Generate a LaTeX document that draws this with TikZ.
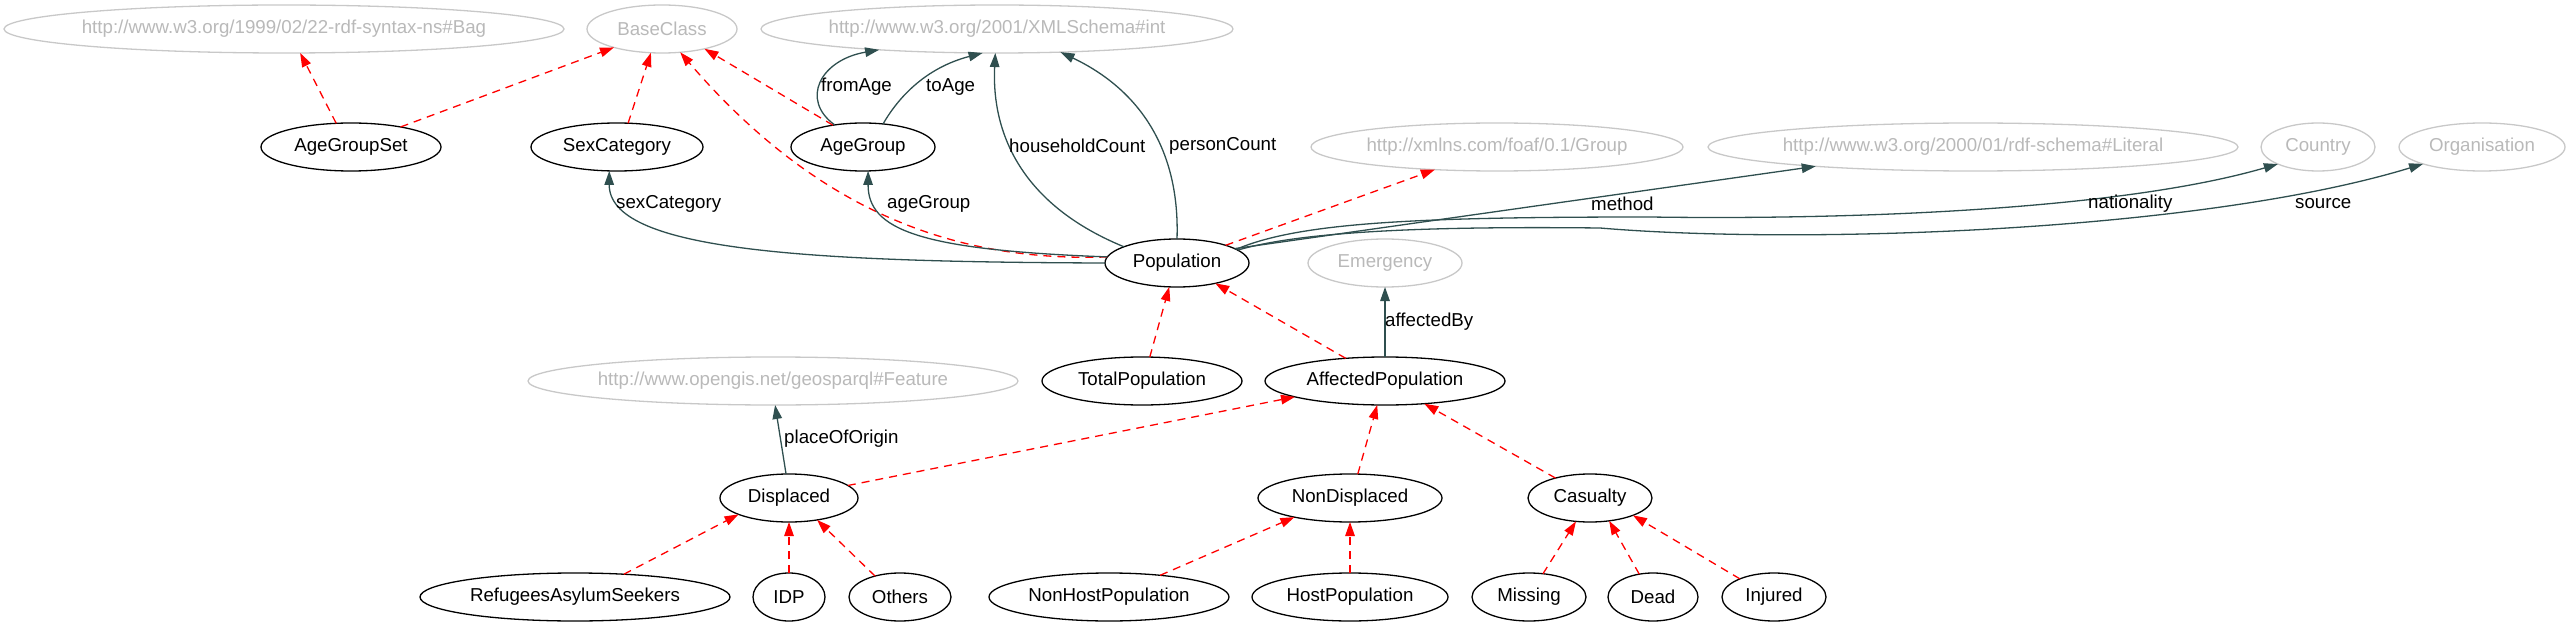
\documentclass[tikz,border=0pt]{standalone}
\usepackage{fontspec}
\setmainfont{Liberation Sans}
\usetikzlibrary{shapes.geometric,arrows.meta}
\definecolor{dslate}{HTML}{2F4F4F}
\definecolor{extline}{RGB}{200,200,200}
\definecolor{exttext}{RGB}{185,185,185}
\begin{document}
\begin{tikzpicture}[x=1bp,y=-1bp,
  font=\fontsize{18.7bp}{22bp}\selectfont,
  cls/.style={ellipse, draw=black, line width=1.3bp, minimum height=48bp, inner sep=0pt, outer sep=0pt},
  ext/.style={ellipse, draw=extline, text=exttext, line width=1.3bp, minimum height=48bp, inner ysep=0pt, inner xsep=-6bp, outer sep=0pt},
  sub/.style={red, line width=1.3bp, dash pattern=on 8bp off 6bp, -{Triangle[length=14bp,width=9.5bp]}},
  prop/.style={dslate, line width=1.3bp, -{Triangle[length=14bp,width=9.5bp]}},
  elbl/.style={anchor=west, inner sep=0pt}]
\useasboundingbox (0,0) rectangle (2571,627);
% external classes
\node[ext, minimum width=560bp] (bag) at (284,29) {http://www.w3.org/1999/02/22-rdf-syntax-ns\#Bag};
\node[ext, minimum width=150bp] (base) at (662,29) {BaseClass};
\node[ext, minimum width=472bp] (xint) at (997,29) {http://www.w3.org/2001/XMLSchema\#int};
\node[ext, minimum width=372bp] (foaf) at (1497,147) {http://xmlns.com/foaf/0.1/Group};
\node[ext, minimum width=530bp] (lit) at (1973,147) {http://www.w3.org/2000/01/rdf-schema\#Literal};
\node[ext, minimum width=114bp] (country) at (2318,147) {Country};
\node[ext, minimum width=166bp] (org) at (2482,147) {Organisation};
\node[ext, minimum width=154bp] (emer) at (1385,263) {Emergency};
\node[ext, minimum width=490bp] (feat) at (773,381) {http://www.opengis.net/geosparql\#Feature};
% classes
\node[cls, minimum width=180bp] (agset) at (351,147) {AgeGroupSet};
\node[cls, minimum width=172bp] (sexc) at (617,147) {SexCategory};
\node[cls, minimum width=144bp] (ageg) at (863,147) {AgeGroup};
\node[cls, minimum width=144bp] (pop) at (1177,263) {Population};
\node[cls, minimum width=200bp] (totp) at (1142,381) {TotalPopulation};
\node[cls, minimum width=240bp] (affp) at (1385,381) {AffectedPopulation};
\node[cls, minimum width=138bp] (disp) at (789,498) {Displaced};
\node[cls, minimum width=184bp] (nond) at (1350,498) {NonDisplaced};
\node[cls, minimum width=124bp] (cas) at (1590,498) {Casualty};
\node[cls, minimum width=310bp] (ras) at (575,597) {RefugeesAsylumSeekers};
\node[cls, minimum width=72bp] (idp) at (789,597) {IDP};
\node[cls, minimum width=102bp] (oth) at (900,597) {Others};
\node[cls, minimum width=240bp] (nonh) at (1109,597) {NonHostPopulation};
\node[cls, minimum width=196bp] (host) at (1350,597) {HostPopulation};
\node[cls, minimum width=114bp] (miss) at (1529,597) {Missing};
\node[cls, minimum width=90bp] (dead) at (1653,597) {Dead};
\node[cls, minimum width=104bp] (inj) at (1774,597) {Injured};
% subclass edges
\draw[sub] (agset.122) -- (bag.-56);
\draw[sub] (agset.22) -- (base.201);
\draw[sub] (sexc.65) -- (base.245);
\draw[sub] (pop.175) .. controls (960,262) and (820,215) .. (base.-52);
\draw[sub] (ageg.144) -- (base.-25);
\draw[sub] (pop.20) -- (foaf.200);
\draw[sub] (totp.72) -- (pop.-108);
\draw[sub] (affp.150) -- (pop.-28);
\draw[sub] (disp.12) -- (affp.190);
\draw[sub] (nond.72) -- (affp.-108);
\draw[sub] (cas.150) -- (affp.-30);
\draw[sub] (ras.25) -- (disp.198);
\draw[sub] (idp.90) -- (disp.-90);
\draw[sub] (oth.140) -- (disp.-38);
\draw[sub] (nonh.23) -- (nond.199);
\draw[sub] (host.90) -- (nond.-90);
\draw[sub] (miss.59) -- (cas.-121);
\draw[sub] (dead.121) -- (cas.-50);
\draw[sub] (inj.152) -- (cas.-22);
% property edges
\draw[prop] (ageg.142) .. controls (800,100) and (820,60) .. (xint.190);
\draw[prop] (ageg.49) .. controls (898,98) and (925,68) .. (xint.239);
\draw[prop] (pop.163) .. controls (1010,200) and (992,120) .. (xint.-94);
\draw[prop] (pop.90) .. controls (1180,150) and (1140,90) .. (xint.-20);
\draw[prop] (pop.180) .. controls (800,262) and (609,250) .. (sexc.-108);
\draw[prop] (pop.175) .. controls (920,250) and (868,230) .. (ageg.-78);
\draw[prop] (pop.14) -- (lit.187);
\draw[prop] (pop.13) .. controls (1300,222) and (1420,217) .. (1650,217)
   .. controls (1850,220) and (2120,210) .. (country.203);
\draw[prop] (pop.12) .. controls (1300,232) and (1420,226) .. (1600,228)
   .. controls (1800,245) and (2200,232) .. (org.196);
\draw[prop] (affp.90) -- (emer.-90);
\draw[prop] (disp.97) -- (feat.-85);
% labels
\node[elbl] (l1) at (821,87) {fromAge};
\node[elbl] (l2) at (926,87) {toAge};
\node[elbl] (l3) at (1009,146) {householdCount};
\node[elbl] (l4) at (1169,146) {personCount};
\node[elbl] (l5) at (616,204) {sexCategory};
\node[elbl] (l6) at (887,204) {ageGroup};
\node[elbl] (l7) at (1591,204) {method};
\node[elbl] (l8) at (2088,204) {nationality};
\node[elbl] (l9) at (2295,204) {source};
\node[elbl] (l10) at (1385,322) {affectedBy};
\node[elbl] (l11) at (784,439) {placeOfOrigin};
\end{tikzpicture}
\end{document}
